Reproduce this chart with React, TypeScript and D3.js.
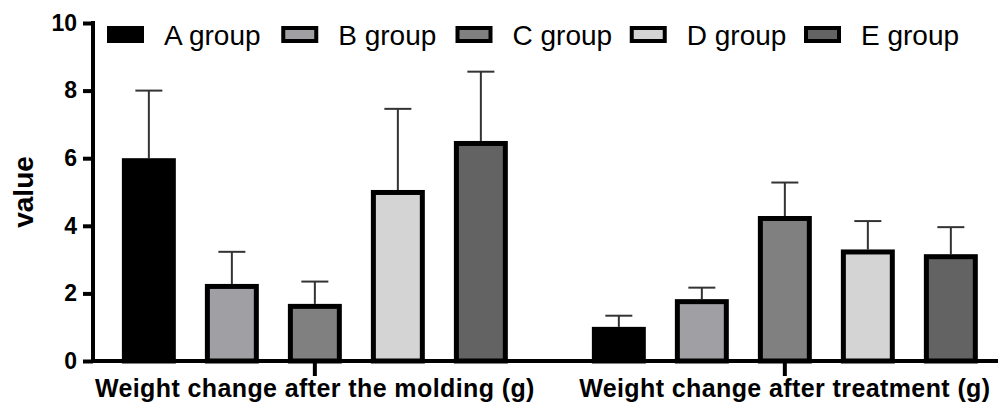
import * as d3 from 'd3';
import { useRef, useEffect } from 'react';

// groups shown in the legend, one bar each per category
const groups = ['A group', 'B group', 'C group', 'D group', 'E group'];
const groupColors = ['#000000', '#a0a0a4', '#808080', '#d4d4d4', '#636363'];

const categories = ['Weight change after the molding (g)', 'Weight change after treatment (g)'];

// means and upper error (SD)
const moldingMeans = [6.0, 2.28, 1.69, 5.06, 6.51];
const moldingErr = [2.0, 0.95, 0.66, 2.4, 2.05];
const treatmentMeans = [1.01, 1.83, 4.29, 3.3, 3.16];
const treatmentErr = [0.33, 0.34, 0.99, 0.84, 0.8];

const yTicks = [0, 2, 4, 6, 8, 10];

export default function App() {
    const ref = useRef<SVGSVGElement>(null);

    useEffect(() => {
        const width = 998;
        const height = 409;
        const margin = { top: 23, right: 0, bottom: 48, left: 93 };
        const font = 'Arial, "Liberation Sans", sans-serif';

        const svg = d3.select(ref.current);
        svg.selectAll('*').remove();
        svg.attr('width', width).attr('height', height);

        const data = [
            { cat: categories[0], means: moldingMeans, errs: moldingErr },
            { cat: categories[1], means: treatmentMeans, errs: treatmentErr },
        ];

        // Scales
        const x0 = d3.scalePoint<string>()
            .domain(categories)
            .range([margin.left, width - margin.right])
            .padding(0.4628)
            .align(0.51);

        const x1 = d3.scaleBand<string>()
            .domain(groups)
            .range([-207.5, 207.5])
            .paddingInner(0.35)
            .paddingOuter(0.175);

        const y = d3.scaleLinear()
            .domain([0, 10])
            .range([height - margin.bottom, margin.top]);

        const bw = x1.bandwidth();
        const border = 5;

        // Bars
        const cat = svg.selectAll('.cat')
            .data(data)
            .enter().append('g')
            .attr('class', 'cat')
            .attr('transform', d => `translate(${x0(d.cat)},0)`);

        cat.selectAll('.bar')
            .data(d => d.means.map((m, i) => ({ g: groups[i], m, e: d.errs[i], c: groupColors[i] })))
            .enter().append('g')
            .each(function (d) {
                const g = d3.select(this);
                const xl = x1(d.g)!;
                // error bar (upper only)
                g.append('line')
                    .attr('x1', xl + bw / 2).attr('x2', xl + bw / 2)
                    .attr('y1', y(d.m)).attr('y2', y(d.m + d.e))
                    .attr('stroke', '#333').attr('stroke-width', 2);
                g.append('line')
                    .attr('x1', xl + bw / 2 - 13.5).attr('x2', xl + bw / 2 + 13.5)
                    .attr('y1', y(d.m + d.e)).attr('y2', y(d.m + d.e))
                    .attr('stroke', '#333').attr('stroke-width', 2);
                g.append('rect')
                    .attr('x', xl + border / 2)
                    .attr('y', y(d.m) + border / 2)
                    .attr('width', bw - border)
                    .attr('height', y(0) - y(d.m) - border / 2)
                    .attr('fill', d.c)
                    .attr('stroke', '#000')
                    .attr('stroke-width', border);
            });

        // Y axis
        const yAxis = d3.axisLeft(y).tickValues(yTicks).tickSize(10).tickSizeOuter(0).tickPadding(6);
        const ya = svg.append('g')
            .attr('transform', `translate(${margin.left},0)`)
            .call(yAxis);
        ya.select('.domain').attr('stroke', '#000').attr('stroke-width', 4)
            .attr('d', `M0,${y(10) - 2}V${y(0) + 2}`);
        ya.selectAll('.tick line').attr('stroke', '#000').attr('stroke-width', 4);
        ya.selectAll('.tick text')
            .attr('font-family', font)
            .attr('font-weight', 'bold')
            .attr('font-size', 23)
            .attr('fill', '#000');

        // X axis line and ticks
        svg.append('line')
            .attr('x1', margin.left).attr('x2', width - margin.right)
            .attr('y1', y(0)).attr('y2', y(0))
            .attr('stroke', '#000').attr('stroke-width', 4);

        svg.selectAll('.xtick')
            .data(categories)
            .enter().append('line')
            .attr('x1', d => x0(d)!).attr('x2', d => x0(d)!)
            .attr('y1', y(0)).attr('y2', y(0) + 15)
            .attr('stroke', '#000').attr('stroke-width', 4);

        svg.selectAll('.xlabel')
            .data(categories)
            .enter().append('text')
            .attr('x', d => x0(d)!)
            .attr('y', y(0) + 36)
            .attr('text-anchor', 'middle')
            .attr('font-family', font)
            .attr('font-weight', 'bold')
            .attr('font-size', 25)
            .attr('letter-spacing', 0.4)
            .text(d => d);

        // Y label
        svg.append('text')
            .attr('transform', `translate(33,${(y(0) + y(10)) / 2}) rotate(-90)`)
            .attr('text-anchor', 'middle')
            .attr('font-family', font)
            .attr('font-weight', 'bold')
            .attr('font-size', 28)
            .text('value');

        // Legend
        const lx = d3.scalePoint<string>().domain(groups).range([107, 804]);
        const leg = svg.selectAll('.leg')
            .data(groups)
            .enter().append('g')
            .attr('transform', d => `translate(${lx(d)},26)`);
        leg.append('rect')
            .attr('x', 2).attr('y', 2)
            .attr('width', 33).attr('height', 13)
            .attr('fill', (d, i) => groupColors[i])
            .attr('stroke', '#000').attr('stroke-width', 4);
        leg.append('text')
            .attr('x', 57).attr('y', 19)
            .attr('font-family', font)
            .attr('font-size', 28)
            .text(d => d);
    }, []);

    return (
        <svg ref={ref} style={{ position: 'absolute', left: 0, top: 0, background: '#fff' }}></svg>
    );
}
